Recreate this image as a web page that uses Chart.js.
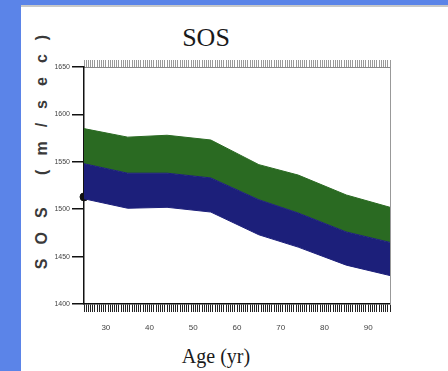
<!DOCTYPE html>
<html>
<head>
<meta charset="utf-8">
<script src="https://cdn.jsdelivr.net/npm/chart.js@4/dist/chart.umd.min.js"></script>
<style>
  html, body { margin: 0; padding: 0; width: 448px; height: 371px; overflow: hidden; background: #5b84e8; }
  #panel { position: absolute; left: 21px; top: 5px; width: 427px; height: 366px; background: #fff; border-top: 2px solid #c8c8c8; }
  #wrap { position: absolute; left: 21px; top: 7px; width: 427px; height: 364px; }
  .txt { position: absolute; white-space: nowrap; line-height: 1; }
  #title { left: 206px; top: 23px; transform: translateX(-50%); font: 26px "Liberation Serif", "DejaVu Serif", serif; color: #1a1a1a; }
  #xtitle { left: 216px; top: 345px; transform: translateX(-50%); font: 20px "Liberation Serif", "DejaVu Serif", serif; color: #1a1a1a; }
  #ytitle { left: 42px; top: 145px; transform: translate(-50%, -50%) rotate(-90deg); font: bold 16px "Liberation Sans", Arial, sans-serif; letter-spacing: 14px; color: #3a3a3a; }
</style>
</head>
<body>
<div id="panel"></div>
<div class="txt" id="title">SOS</div>
<div class="txt" id="ytitle">SOS (m/sec)</div>
<div class="txt" id="xtitle">Age (yr)</div>
<div id="wrap"><canvas id="c" width="427" height="364"></canvas></div>
<script>
// Age (years) at each sampled point along the bands
const ages = [25, 35, 44, 54, 65, 74, 85, 95];
// Lower edge of the blue band (m/sec)
const sosLow = [1511, 1501, 1502, 1497, 1473, 1460, 1441, 1430];
// Boundary between the blue and green bands
const sosMid = [1548, 1538, 1538, 1533, 1510, 1496, 1476, 1465];
// Upper edge of the green band
const sosHigh = [1585, 1576, 1578, 1573, 1547, 1536, 1515, 1502];
// Single marked measurement on the left axis
const markAge = [25];
const markSos = [1513];
// Axis ranges and tick steps
const ageRange = [25, 95];
const ageLabelStep = 10;
const sosRange = [1400, 1650];
const sosStep = 50;

const GREEN = '#2a6a22';
const NAVY = '#1c1f7a';

const pts = (xs, ys) => xs.map((x, i) => ({ x: x, y: ys[i] }));

new Chart(document.getElementById('c'), {
  type: 'line',
  data: {
    datasets: [
      { data: pts(ages, sosLow), borderColor: NAVY, borderWidth: 1, pointRadius: 0, fill: false, tension: 0 },
      { data: pts(ages, sosMid), borderColor: NAVY, backgroundColor: NAVY, borderWidth: 1, pointRadius: 0, fill: '-1', tension: 0 },
      { data: pts(ages, sosHigh), borderColor: GREEN, backgroundColor: GREEN, borderWidth: 1, pointRadius: 0, fill: '-1', tension: 0 },
      { data: pts(markAge, markSos), showLine: false, pointRadius: 4, pointBackgroundColor: '#111', pointBorderColor: '#111', clip: false }
    ]
  },
  options: {
    responsive: false,
    animation: false,
    devicePixelRatio: 1,
    layout: { padding: 0 },
    plugins: { legend: { display: false }, tooltip: { enabled: false }, title: { display: false } },
    scales: {
      x: {
        type: 'linear', position: 'bottom', min: ageRange[0], max: ageRange[1],
        ticks: {
          stepSize: 0.5, autoSkip: false, maxRotation: 0, padding: 11,
          font: { size: 8, family: 'Liberation Sans' }, color: '#444',
          callback: v => (v % ageLabelStep === 0 && v > ageRange[0]) ? String(v) : ''
        },
        grid: { drawOnChartArea: false, drawTicks: true, tickLength: 8, color: '#222', lineWidth: 1 },
        border: { color: '#111', width: 1.5 },
        afterFit: s => { s.height = 67; }
      },
      x2: {
        type: 'linear', position: 'top', min: ageRange[0], max: ageRange[1],
        ticks: { stepSize: 0.5, autoSkip: false, display: false },
        grid: { drawOnChartArea: false, drawTicks: true, tickLength: 7, color: '#9a9a9a', lineWidth: 1 },
        border: { color: '#888', width: 1 },
        afterFit: s => { s.height = 60; }
      },
      y: {
        type: 'linear', position: 'left', min: sosRange[0], max: sosRange[1],
        ticks: { stepSize: sosStep, padding: 2, font: { size: 7, family: 'Liberation Sans' }, color: '#444', callback: v => String(v) },
        grid: { drawOnChartArea: false, drawTicks: true, tickLength: 12, color: '#111', lineWidth: 1.5 },
        border: { color: '#111', width: 1.5 },
        afterFit: s => { s.width = 63; }
      },
      y2: {
        type: 'linear', position: 'right', min: sosRange[0], max: sosRange[1],
        ticks: { display: false },
        grid: { display: false },
        border: { color: '#999', width: 1 },
        afterFit: s => { s.width = 58; }
      }
    }
  }
});
</script>
</body>
</html>
